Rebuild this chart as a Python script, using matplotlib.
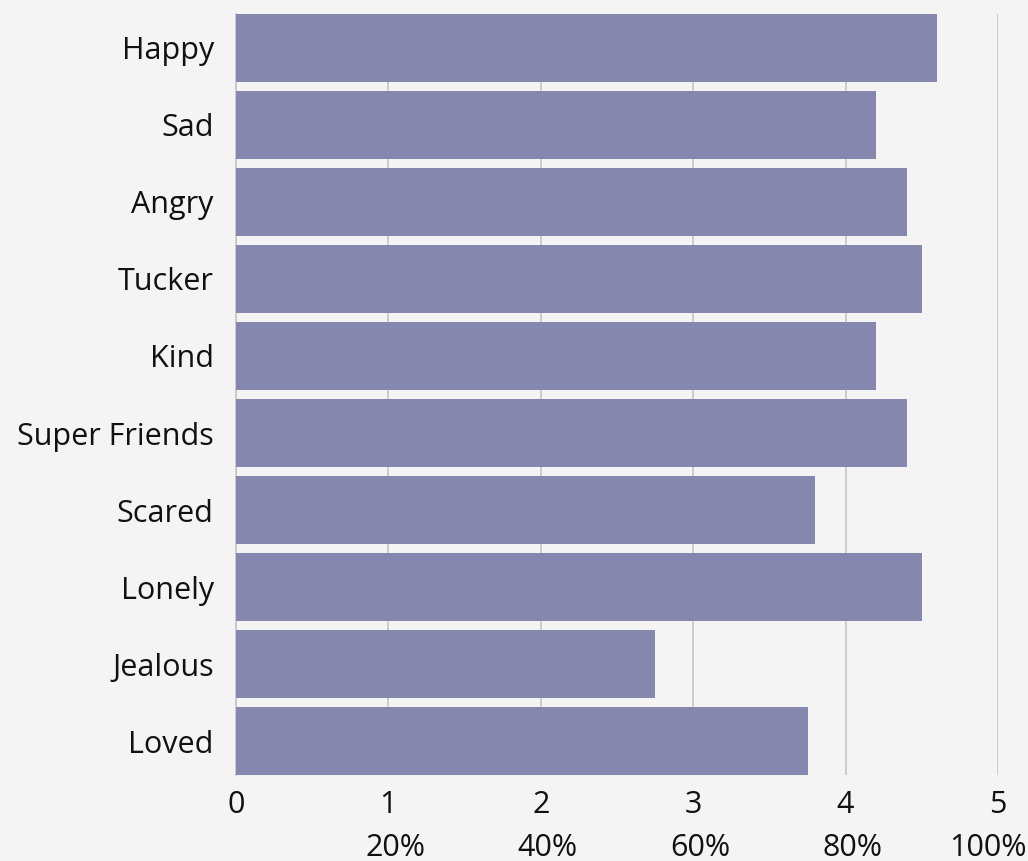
import matplotlib
matplotlib.use("Agg")
import matplotlib.pyplot as plt

categories = ["Happy", "Sad", "Angry", "Tucker", "Kind", "Super Friends",
              "Scared", "Lonely", "Jealous", "Loved"]
values = [4.6, 4.2, 4.4, 4.5, 4.2, 4.4, 3.8, 4.5, 2.75, 3.75]
x_ticks = [0, 1, 2, 3, 4, 5]
x_labels = ["0", "1", "2", "3", "4", "5"]
pct_labels = ["", "20%", "40%", "60%", "80%", "100%"]

plt.rcParams['font.family'] = ['Open Sans', 'DejaVu Sans']
FS = 22

fig = plt.figure(figsize=(10.28, 8.61), dpi=100, facecolor="#F4F4F4")
ax = fig.add_axes([236/1028, 1-775/861, (998-236)/1028, (775-14)/861])
ax.set_facecolor("#F4F4F4")

y = list(range(len(categories)))
ax.barh(y, values, height=0.88, color="#8587AF", zorder=3)
ax.set_ylim(len(categories) - 1 + 0.4415, -0.4415)
ax.set_xlim(0, 5)

ax.set_yticks(y)
ax.set_yticklabels(categories, fontsize=FS, color="#111111")
ax.tick_params(axis="y", length=0, pad=16)

ax.set_xticks(x_ticks)
ax.set_xticklabels(x_labels, fontsize=FS, color="#111111")
ax.tick_params(axis="x", length=0, pad=11)

# percentage labels beneath the numbers
for xt, pl in zip(x_ticks, pct_labels):
    if not pl:
        continue
    if xt == 5:
        ax.annotate(pl, xy=(xt, 0), xycoords=("data", "axes fraction"),
                    xytext=(21, -42), textcoords="offset points",
                    ha="right", va="top", fontsize=FS, color="#111111",
                    annotation_clip=False)
    else:
        ax.annotate(pl, xy=(xt, 0), xycoords=("data", "axes fraction"),
                    xytext=(5, -42), textcoords="offset points",
                    ha="center", va="top", fontsize=FS, color="#111111",
                    annotation_clip=False)

ax.grid(axis="x", color="#C8C8C8", linewidth=1.3, zorder=0)
ax.grid(axis="y", visible=False)
for s in ["top", "right", "bottom"]:
    ax.spines[s].set_visible(False)
ax.spines["left"].set_color("#C8C8C8")
ax.spines["left"].set_linewidth(1.3)
ax.spines["left"].set_zorder(0)

fig.savefig("out.png", dpi=100, facecolor=fig.get_facecolor())
